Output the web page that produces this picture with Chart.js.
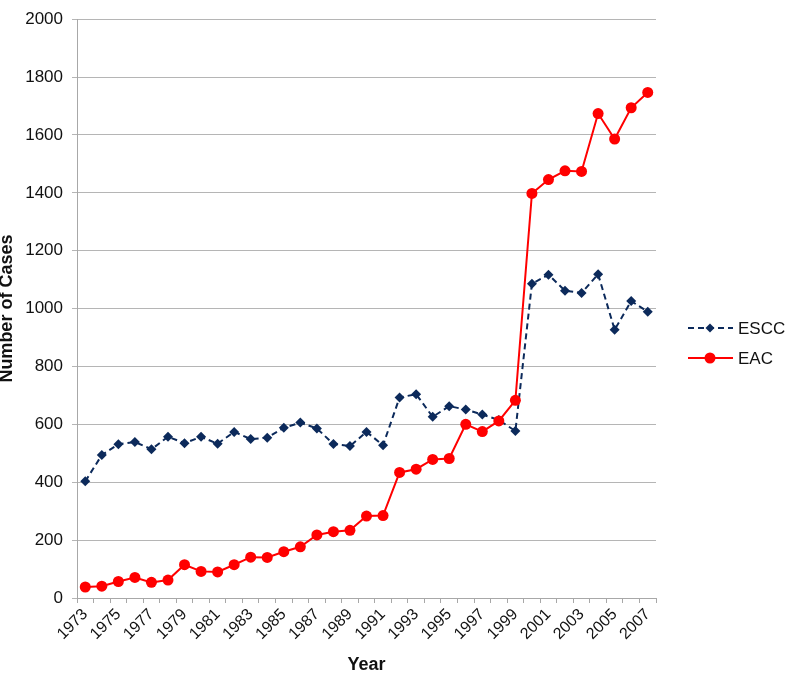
<!DOCTYPE html>
<html>
<head>
<meta charset="utf-8">
<script src="https://cdn.jsdelivr.net/npm/chart.js@4/dist/chart.umd.min.js"></script>
<style>
  body { margin: 0; background: #fff; }
  canvas { display: block; }
</style>
</head>
<body>
<canvas id="cases" width="788" height="674"></canvas>
<script>
const years = [
  "1973", "1974", "1975", "1976", "1977", "1978", "1979", "1980", "1981", "1982",
  "1983", "1984", "1985", "1986", "1987", "1988", "1989", "1990", "1991", "1992",
  "1993", "1994", "1995", "1996", "1997", "1998", "1999", "2000", "2001", "2002",
  "2003", "2004", "2005", "2006", "2007",
];
const escc = [
  403, 494, 531, 539, 514, 557, 535, 557, 533, 574,
  549, 554, 588, 606, 586, 532, 525, 574, 528, 693,
  704, 626, 663, 651, 634, 615, 577, 1086, 1117, 1062,
  1054, 1119, 927, 1026, 989,
];
const eac = [
  38, 41, 57, 71, 54, 62, 115, 92, 90, 115,
  141, 140, 160, 177, 218, 229, 234, 283, 285, 434,
  445, 479, 482, 600, 575, 612, 683, 1398, 1446, 1476,
  1474, 1674, 1586, 1694, 1747,
];
const yTicks = [0, 200, 400, 600, 800, 1000, 1200, 1400, 1600, 1800, 2000];

(() => {
  const NAVY = "#0c2a5b";
  const RED = "#ff0000";
  const GRID = "#b5b5b5";
  const FONT = "'Liberation Sans', Arial, sans-serif";

  // legend sits lower than the plot middle, so draw it by hand
  const sideLegend = {
    id: "sideLegend",
    afterDraw: (chart) => {
      const { ctx } = chart;
      const items = [
        { text: "ESCC", color: NAVY, dash: [6, 4], y: 328, marker: "diamond" },
        { text: "EAC", color: RED, dash: [], y: 358, marker: "circle" },
      ];

      ctx.save();
      items.forEach((item) => {
        ctx.strokeStyle = item.color;
        ctx.fillStyle = item.color;
        ctx.lineWidth = 2;
        ctx.setLineDash(item.dash);
        ctx.beginPath();
        ctx.moveTo(688, item.y);
        ctx.lineTo(733, item.y);
        ctx.stroke();
        ctx.setLineDash([]);

        ctx.beginPath();
        if (item.marker === "diamond") {
          ctx.moveTo(710, item.y - 4.5);
          ctx.lineTo(714.5, item.y);
          ctx.lineTo(710, item.y + 4.5);
          ctx.lineTo(705.5, item.y);
          ctx.closePath();
        } else {
          ctx.arc(710, item.y, 5.5, 0, 2 * Math.PI);
        }
        ctx.fill();

        ctx.fillStyle = "#111";
        ctx.font = "17px " + FONT;
        ctx.textBaseline = "middle";
        ctx.textAlign = "left";
        ctx.fillText(item.text, 738, item.y + 1);
      });
      ctx.restore();
    },
  };

  const data = {
    labels: years,
    datasets: [
      {
        label: "ESCC",
        data: escc,
        order: 1,
        borderColor: NAVY,
        backgroundColor: NAVY,
        borderWidth: 2,
        borderDash: [6, 4],
        pointStyle: "rectRot",
        pointRadius: 5,
        pointBorderWidth: 0,
        tension: 0,
      },
      {
        label: "EAC",
        data: eac,
        order: 0,
        borderColor: RED,
        backgroundColor: RED,
        borderWidth: 2,
        pointStyle: "circle",
        pointRadius: 5.5,
        pointBorderWidth: 0,
        tension: 0,
      },
    ],
  };

  const config = {
    type: "line",
    data: data,
    plugins: [sideLegend],
    options: {
      responsive: false,
      animation: false,
      layout: {
        padding: { top: 7, right: 132, left: 0, bottom: 0 },
      },
      plugins: {
        legend: { display: false },
        tooltip: { enabled: false },
      },
      scales: {
        x: {
          offset: true,
          afterFit: (scale) => {
            scale.height = 76;
          },
          border: { color: "#a8a8a8", width: 1 },
          grid: {
            offset: true,
            drawOnChartArea: false,
            drawTicks: true,
            tickLength: 5,
            color: "#a8a8a8",
          },
          ticks: {
            autoSkip: false,
            maxRotation: 45,
            minRotation: 45,
            padding: 2,
            color: "#111",
            font: { family: FONT, size: 16 },
            callback: (_value, index) => (index % 2 === 0 ? years[index] : ""),
          },
          title: {
            display: true,
            text: "Year",
            color: "#111",
            padding: 0,
            font: { family: FONT, size: 18, weight: "bold", lineHeight: 1 },
          },
        },
        y: {
          min: 0,
          max: 2000,
          afterFit: (scale) => {
            scale.width = 77;
          },
          afterBuildTicks: (scale) => {
            scale.ticks = yTicks.map((v) => ({ value: v }));
          },
          border: { color: "#a8a8a8", width: 1 },
          grid: {
            color: GRID,
            tickLength: 5,
          },
          ticks: {
            padding: 9,
            color: "#111",
            font: { family: FONT, size: 17 },
            callback: (value) => String(value),
          },
          title: {
            display: true,
            text: "Number of Cases",
            color: "#111",
            padding: 0,
            font: { family: FONT, size: 18, weight: "bold", lineHeight: 0.8 },
          },
        },
      },
    },
  };

  new Chart(document.getElementById("cases"), config);
})();
</script>
</body>
</html>
